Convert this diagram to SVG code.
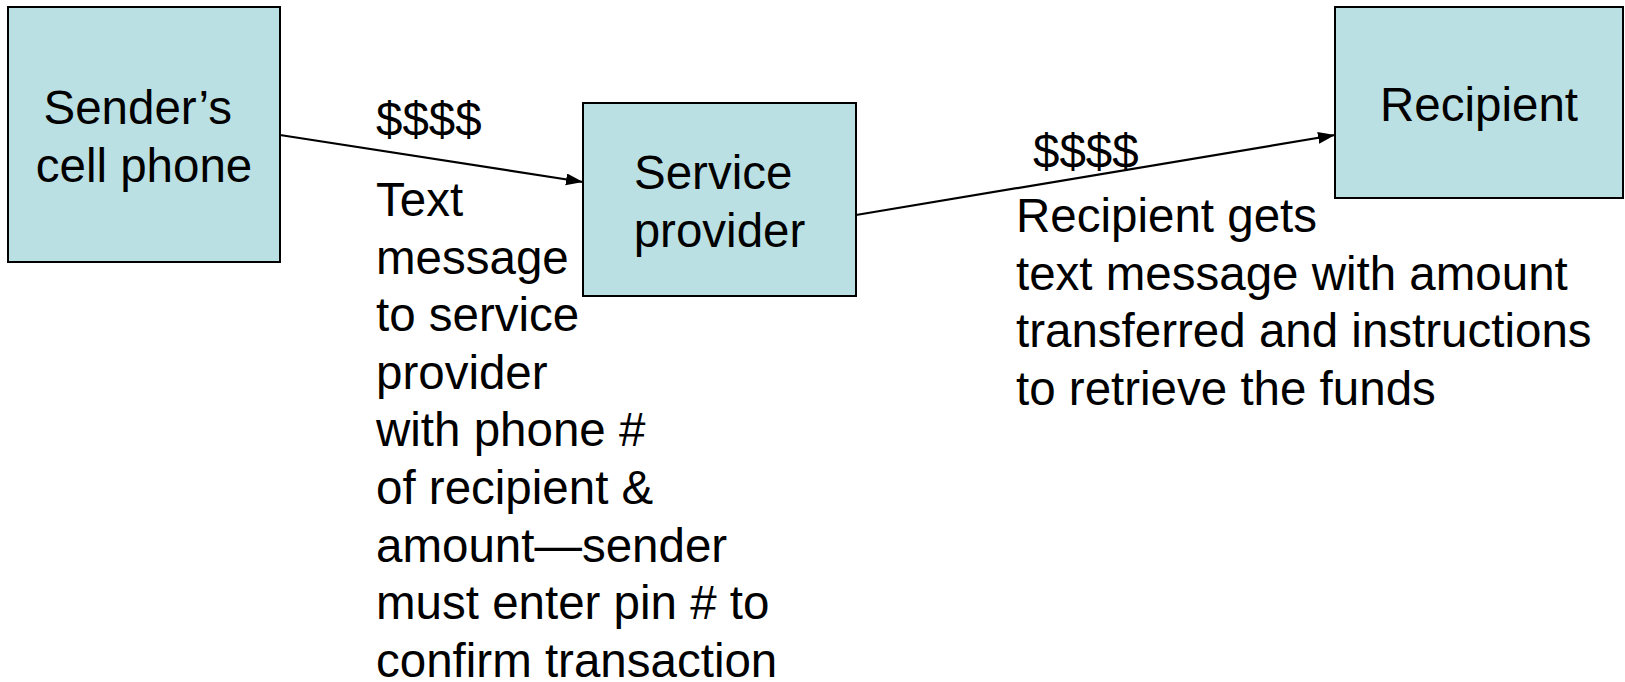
<svg xmlns="http://www.w3.org/2000/svg" width="1625" height="682" viewBox="0 0 1625 682">
<defs>
<style>
.box{fill:#BBE0E3;stroke:#000;stroke-width:2}
.t{font-family:"Liberation Sans",Arial,sans-serif;font-size:47.5px;fill:#000}
.c{text-anchor:middle}
.edge{stroke:#000;stroke-width:2.2;fill:none;marker-end:url(#ah)}
</style>
<marker id="ah" markerUnits="userSpaceOnUse" markerWidth="18" markerHeight="14" refX="17" refY="6" orient="auto">
<path d="M0,0 L17,6 L0,12 z" fill="#000"/>
</marker>
</defs>
<rect width="1625" height="682" fill="#fff"/>
<g id="connectors">
<line class="edge" x1="280" y1="135" x2="583" y2="182"/>
<line class="edge" x1="856" y1="215" x2="1335" y2="135"/>
</g>
<g id="sender">
<rect class="box" x="8" y="7" width="272" height="255"/>
<text class="t" x="43.5" y="124">Sender’s</text>
<text class="t c" x="144" y="181.6">cell phone</text>
</g>
<g id="service">
<rect class="box" x="583" y="103" width="273" height="193"/>
<text class="t" x="634" y="189">Service</text>
<text class="t c" x="719.5" y="246.6">provider</text>
</g>
<g id="recipient">
<rect class="box" x="1335" y="7" width="288" height="191"/>
<text class="t c" x="1479" y="121">Recipient</text>
</g>
<g id="label1">
<text class="t" x="376" y="136">$$$$</text>
<text class="t" x="376" y="216">Text</text>
<text class="t" x="376" y="273.6">message</text>
<text class="t" x="376" y="331.2">to service</text>
<text class="t" x="376" y="388.8">provider</text>
<text class="t" x="376" y="446.4">with phone #</text>
<text class="t" x="376" y="504">of recipient &amp;</text>
<text class="t" x="376" y="561.6">amount—sender</text>
<text class="t" x="376" y="619.2">must enter pin # to</text>
<text class="t" x="376" y="676.5">confirm transaction</text>
</g>
<g id="label2">
<text class="t" x="1033" y="168">$$$$</text>
<text class="t" x="1016" y="232">Recipient gets</text>
<text class="t" x="1016" y="289.6">text message with amount</text>
<text class="t" x="1016" y="347.2">transferred and instructions</text>
<text class="t" x="1016" y="404.8">to retrieve the funds</text>
</g>
</svg>
